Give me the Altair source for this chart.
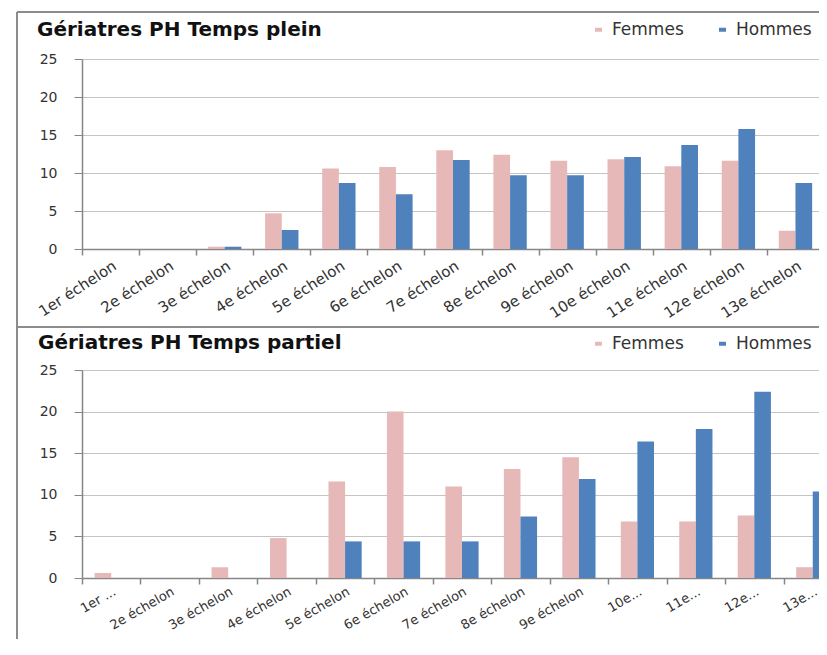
import altair as alt
import pandas as pd

categories = ["1er échelon", "2e échelon", "3e échelon", "4e échelon", "5e échelon",
              "6e échelon", "7e échelon", "8e échelon", "9e échelon", "10e échelon",
              "11e échelon", "12e échelon", "13e échelon"]
series = ["Femmes", "Hommes"]

plein_femmes = [0, 0, 0.3, 4.7, 10.6, 10.8, 13.0, 12.4, 11.6, 11.8, 10.9, 11.6, 2.4]
plein_hommes = [0, 0, 0.3, 2.5, 8.7, 7.2, 11.7, 9.7, 9.7, 12.1, 13.7, 15.8, 8.7]
partiel_femmes = [0.6, 0, 1.3, 4.8, 11.6, 20.0, 11.0, 13.1, 14.5, 6.8, 6.8, 7.5, 1.3]
partiel_hommes = [0, 0, 0, 0, 4.4, 4.4, 4.4, 7.4, 11.9, 16.4, 17.9, 22.4, 10.4]

plein_labels = categories
partiel_labels = ["1er ...", "2e échelon", "3e échelon", "4e échelon", "5e échelon",
                  "6e échelon", "7e échelon", "8e échelon", "9e échelon", "10e...",
                  "11e...", "12e...", "13e..."]
y_ticks = [0, 5, 10, 15, 20, 25]

titre_plein = "Gériatres PH Temps plein"
titre_partiel = "Gériatres PH Temps partiel"

PINK = "#E6B9B8"
BLUE = "#4F81BD"
BORDER = "#8C8C8C"
AXIS = "#868686"
FONT = "DejaVu Sans"

# combined drawing area (pixels relative to the plot origin)
W, H = 737, 580
TOP_Y = (0, 190)        # top panel plot rows
BOT_Y = (311, 519)      # bottom panel plot rows

one = pd.DataFrame({"k": [0]})


def bars(fem, hom, labels, x_range, y_range, offset_pad, legend_y, label_size, label_pad,
         label_angle):
    df = pd.DataFrame({
        "echelon": categories * 2,
        "sexe": ["Femmes"] * len(categories) + ["Hommes"] * len(categories),
        "valeur": fem + hom,
    })
    mapping = ",".join("'%s':'%s'" % (k, v) for k, v in zip(categories, labels))
    expr = "{" + mapping + "}[datum.value]"
    return alt.Chart(df).mark_bar().encode(
        x=alt.X("echelon:N", sort=categories, title=None,
                scale=alt.Scale(paddingInner=0, paddingOuter=0, range=list(x_range)),
                axis=alt.Axis(orient="bottom", offset=y_range[1] - H,
                              labelAngle=label_angle, labelExpr=expr, tickBand="extent",
                              labelFont=FONT, labelFontSize=label_size, labelColor="#333333",
                              domainColor=AXIS, domainWidth=1.5, tickColor=AXIS,
                              tickSize=6, tickWidth=1.5, labelPadding=label_pad, grid=False,
                              labelOverlap=False)),
        xOffset=alt.XOffset("sexe:N", sort=series,
                            scale=alt.Scale(paddingInner=0, paddingOuter=offset_pad)),
        y=alt.Y("valeur:Q", title=None,
                scale=alt.Scale(domain=[0, 25], nice=False, range=[y_range[1], y_range[0]]),
                axis=alt.Axis(orient="left", values=y_ticks, labelFont=FONT, labelFontSize=14,
                              labelColor="#333333", domainColor=AXIS, domainWidth=1.5,
                              tickColor=AXIS, tickSize=8, labelPadding=17,
                              grid=True, gridColor="#C4C4C4", gridWidth=1.2)),
        color=alt.Color("sexe:N", sort=series,
                        scale=alt.Scale(domain=series, range=[PINK, BLUE]),
                        legend=alt.Legend(title=None, orient="none", legendX=508,
                                          legendY=legend_y, direction="horizontal",
                                          symbolType="M-1,-0.57L1,-0.57L1,0.57L-1,0.57Z",
                                          symbolSize=49, symbolStrokeWidth=0,
                                          labelFont=FONT, labelFontSize=17,
                                          labelColor="#333333", labelOffset=5,
                                          columnPadding=30)),
    )


top_bars = bars(plein_femmes, plein_hommes, plein_labels, (0, 742), TOP_Y, 0.71, -38,
                15, 3, -33)
bot_bars = bars(partiel_femmes, partiel_hommes, partiel_labels, (0, 760), BOT_Y, 0.76,
                BOT_Y[0] - 35, 13, 1, -30)

rule = alt.Chart(one).mark_rule(color=BORDER, strokeWidth=2)
frame = [
    rule.encode(x=alt.value(-65), x2=alt.value(W + 5), y=alt.value(-47)),
    rule.encode(x=alt.value(-65), y=alt.value(-47), y2=alt.value(H + 5)),
    rule.encode(x=alt.value(-65), x2=alt.value(W + 5), y=alt.value(268)),
]


def title_mark(text, x, y):
    return alt.Chart(one).mark_text(text=text, align="left", baseline="alphabetic",
                                    font=FONT, fontWeight="bold", fontSize=20,
                                    color="#111111").encode(x=alt.value(x), y=alt.value(y))


titles = [title_mark(titre_plein, -45, -23), title_mark(titre_partiel, -44, BOT_Y[0] - 21)]

chart = alt.layer(top_bars, bot_bars, *frame, *titles).resolve_scale(
    x="independent", y="independent", xOffset="independent", color="independent"
).resolve_axis(x="independent", y="independent").resolve_legend(
    color="independent"
).properties(
    width=W, height=H,
    autosize=alt.AutoSizeParams(type="none"),
    padding={"left": 74, "top": 51, "right": 0, "bottom": 0},
    background="white",
).configure_view(stroke=None)

chart.save("out.html", embed_options={"renderer": "svg", "actions": False})
